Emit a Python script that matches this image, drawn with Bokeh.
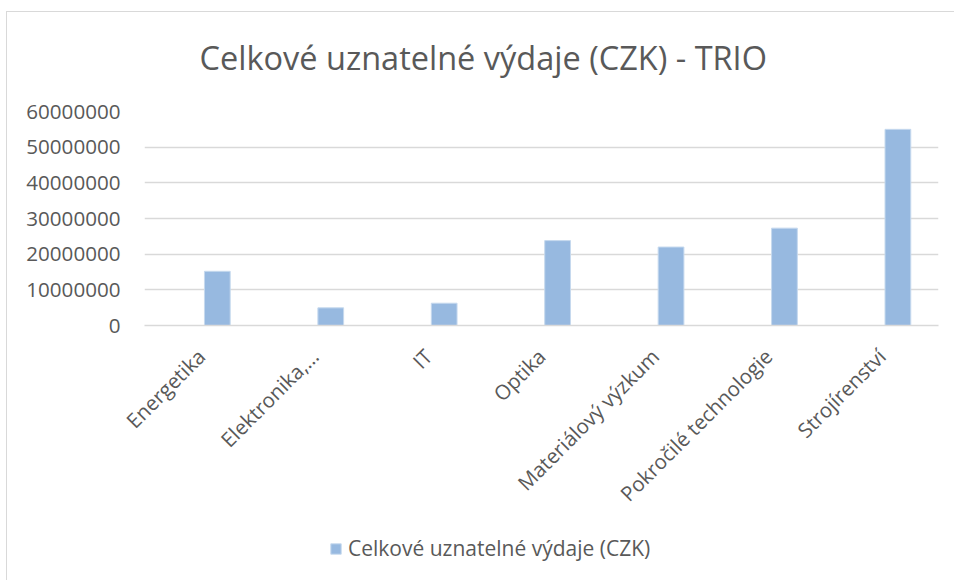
import math
from bokeh.plotting import figure
from bokeh.layouts import column
from bokeh.models import (Range1d, FixedTicker, NumeralTickFormatter, Title,
                          Legend, LegendItem, ColumnDataSource)
from bokeh.embed import file_html
from bokeh.resources import INLINE

categories = ["Energetika", "Elektronika,…", "IT", "Optika",
              "Materiálový výzkum", "Pokročilé technologie", "Strojírenství"]
values = [15200000, 4950000, 6250000, 23800000, 22000000, 27300000, 55000000]
y_ticks = [0, 10000000, 20000000, 30000000, 40000000, 50000000, 60000000]
series_name = "Celkové uznatelné výdaje (CZK)"
title_text = "Celkové uznatelné výdaje (CZK) - TRIO"

FONT = "Open Sans"
GRAY = "#595959"
GRID = "#d9d9d9"
BAR = "#97b9e0"
BAR_EDGE = "#c6d9ee"

centers = [i + 0.5 for i in range(len(categories))]
bar_x = [c + 0.142 for c in centers]

p = figure(width=948, height=513, output_backend="svg", toolbar_location=None,
           x_range=Range1d(0, len(categories)), y_range=Range1d(0, 60000000),
           min_border_left=137, min_border_right=17, min_border_top=99,
           min_border_bottom=200, background_fill_color="white",
           border_fill_color="white")
p.styles = {"border-top": "1px solid #d9d9d9", "border-left": "1px solid #d9d9d9"}
p.margin = (11, 0, 0, 6)
p.outline_line_color = None

src = ColumnDataSource(dict(x=bar_x, top=values))
r = p.vbar(x="x", top="top", width=0.227, source=src, fill_color=BAR,
           line_color=BAR_EDGE, line_width=1)

# y axis
p.yaxis.ticker = FixedTicker(ticks=y_ticks)
p.yaxis.formatter = NumeralTickFormatter(format="0")
p.yaxis.axis_line_color = None
p.yaxis.major_tick_line_color = None
p.yaxis.minor_tick_line_color = None
p.yaxis.major_tick_out = 0
p.yaxis.major_tick_in = 0
p.yaxis.major_label_standoff = 24
p.yaxis.major_label_text_font = FONT
p.yaxis.major_label_text_font_size = "20.6px"
p.yaxis.major_label_text_color = GRAY

# x axis
p.xaxis.ticker = FixedTicker(ticks=centers)
p.xaxis.major_label_overrides = {c: name for c, name in zip(centers, categories)}
p.xaxis.major_label_orientation = math.pi / 4
p.xaxis.axis_line_color = GRID
p.xaxis.axis_line_width = 1.5
p.xaxis.major_tick_line_color = None
p.xaxis.minor_tick_line_color = None
p.xaxis.major_tick_out = 0
p.xaxis.major_tick_in = 0
p.xaxis.major_label_standoff = 27
p.xaxis.major_label_text_font = FONT
p.xaxis.major_label_text_font_size = "20.5px"
p.xaxis.major_label_text_color = GRAY

p.xgrid.grid_line_color = None
p.ygrid.ticker = FixedTicker(ticks=y_ticks)
p.ygrid.grid_line_color = GRID
p.ygrid.grid_line_width = 1.5

# spacer between title and plot area, then the title itself
spacer = Title(text=" ", text_font_size="1px", standoff=29, text_color="white")
p.add_layout(spacer, "above")
title = Title(text=title_text, align="left", offset=55, standoff=0,
              vertical_align="bottom", text_font=FONT, text_font_size="32.5px",
              text_font_style="normal", text_color=GRAY)
p.add_layout(title, "above")

# legend strip under the chart (its bars fall outside this strip's ranges)
p2 = figure(width=948, height=56, output_backend="svg", toolbar_location=None,
            x_range=Range1d(-2, -1), y_range=Range1d(1e9, 2e9),
            x_axis_type=None, y_axis_type=None, min_border=0,
            background_fill_color="white", border_fill_color="white")
p2.styles = {"border-left": "1px solid #d9d9d9"}
p2.margin = (0, 0, 0, 6)
p2.outline_line_color = None
p2.grid.visible = False
lr = p2.vbar(x="x", top="top", bottom=0, width=0.227, source=src,
             fill_color=BAR, line_color=BAR_EDGE, line_width=1)

legend = Legend(items=[LegendItem(label=series_name, renderers=[lr])],
                location=(185, 18), orientation="horizontal",
                glyph_width=13, glyph_height=13, label_standoff=6, padding=0,
                spacing=0, margin=0, border_line_color=None,
                background_fill_alpha=0, label_text_font=FONT,
                label_text_font_size="21px", label_text_color=GRAY)
p2.add_layout(legend)

layout = column(p, p2, spacing=0)
open("out.html", "w").write(file_html(layout, INLINE))
